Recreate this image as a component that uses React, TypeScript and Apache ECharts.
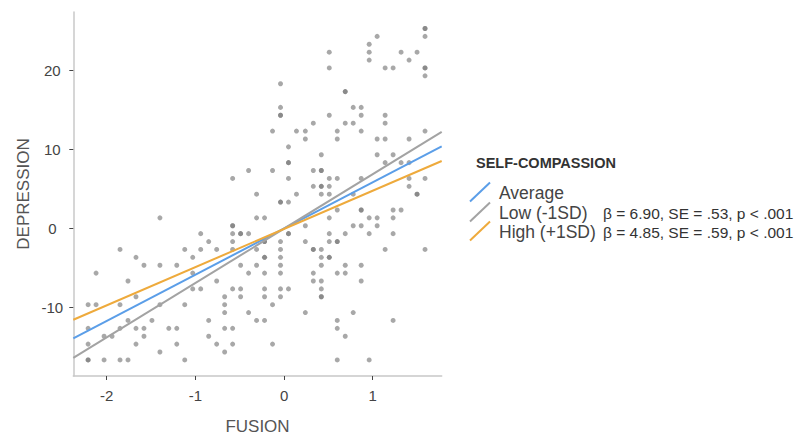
import React, { useEffect, useRef } from "react";
import * as echarts from "echarts";

const xTicks = [-2, -1, 0, 1];
const yTicks = [-10, 0, 10, 20];
const xRange = [-2.377, 1.778];
const yRange = [-18.72, 27.41];

const lineX = [-2.377, 1.778];
const averageY = [-13.95, 10.39];
const lowY = [-16.43, 12.22];
const highY = [-11.59, 8.53];

const legendTitle = "SELF-COMPASSION";
const seriesNames = ["Average", "Low (-1SD)", "High (+1SD)"];
const seriesStats = ["", "β = 6.90, SE = .53, p < .001", "β = 4.85, SE = .59, p < .001"];
const lineColors = ["#5b9ee8", "#a3a3a3", "#eeaa3c"];

// [fusion, depression] observations (repeated pairs = overlapping points)
const observations: [number, number][] = [
  [-1.40, 1.32],
  [-1.85, -2.68], [-1.12, -2.68],
  [-1.67, -3.68], [-1.03, -3.68],
  [-1.58, -4.68], [-1.40, -4.68], [-1.21, -4.68],
  [-2.12, -5.68], [-1.03, -5.68],
  [-1.76, -6.68],
  [-1.03, -7.68],
  [-1.67, -8.68],
  [-2.21, -9.68], [-2.12, -9.68], [-1.85, -9.68], [-1.40, -9.68], [-1.12, -9.68],
  [-1.76, -11.68], [-1.49, -11.68],
  [-2.21, -12.68], [-1.85, -12.68], [-1.67, -12.68], [-1.58, -12.68], [-1.30, -12.68], [-1.21, -12.68],
  [-2.03, -13.68], [-1.94, -13.68], [-1.58, -13.68],
  [-2.21, -14.68], [-1.67, -14.68], [-1.21, -14.68],
  [-1.40, -15.68],
  [-2.21, -16.68], [-2.21, -16.68], [-2.03, -16.68], [-1.85, -16.68], [-1.76, -16.68], [-1.12, -16.68],

  [-0.04, 3.32], [-0.04, 3.32], [0.05, 3.32],
  [-0.31, 1.32], [-0.22, 1.32],
  [-0.58, 0.32], [-0.58, 0.32], [0.24, 0.32],
  [-0.94, -0.68], [-0.58, -0.68], [-0.49, -0.68], [-0.49, -0.68], [-0.40, -0.68], [0.05, -0.68], [0.05, -0.68],
  [-0.85, -1.68], [-0.58, -1.68], [-0.22, -1.68], [-0.22, -1.68], [-0.04, -1.68], [0.24, -1.68],
  [-0.94, -2.68], [-0.76, -2.68], [-0.58, -2.68], [-0.31, -2.68], [-0.04, -2.68], [0.33, -2.68], [0.33, -2.68],
  [-0.22, -3.68], [-0.22, -3.68], [-0.04, -3.68],
  [-0.49, -4.68], [-0.31, -4.68], [-0.04, -4.68],
  [-0.40, -5.68], [-0.22, -5.68], [-0.04, -5.68], [0.33, -5.68],
  [-0.76, -6.68], [0.33, -6.68],
  [-0.94, -7.68], [-0.58, -7.68], [-0.49, -7.68], [-0.22, -7.68], [-0.04, -7.68], [0.05, -7.68],
  [-0.67, -8.68], [-0.49, -8.68], [-0.22, -8.68], [-0.04, -8.68],
  [-0.67, -9.68], [-0.13, -9.68],
  [-0.67, -10.68], [-0.40, -10.68], [0.24, -10.68],
  [-0.85, -11.68], [-0.31, -11.68], [-0.22, -11.68],
  [-0.67, -12.68], [-0.58, -12.68],
  [-0.85, -13.68],
  [-0.76, -14.68], [-0.58, -14.68], [-0.13, -14.68],
  [-0.67, -15.68],

  [0.60, 2.32], [0.87, 2.32], [0.87, 2.32], [1.23, 2.32], [1.32, 2.32],
  [0.51, 1.32], [0.96, 1.32], [1.05, 1.32], [1.23, 1.32],
  [0.78, 0.32], [0.87, 0.32], [1.05, 0.32],
  [0.51, -0.68], [0.69, -0.68], [0.96, -0.68], [1.23, -0.68],
  [0.51, -1.68], [0.60, -1.68], [0.60, -1.68],
  [0.42, -2.68], [1.14, -2.68], [1.59, -2.68],
  [0.42, -3.68], [0.51, -3.68], [0.51, -3.68],
  [0.42, -4.68], [0.69, -4.68], [0.87, -4.68],
  [0.60, -5.68], [0.69, -5.68],
  [0.42, -6.68], [0.87, -6.68],
  [0.42, -7.68],
  [0.42, -8.68], [0.42, -8.68],
  [0.78, -10.68],
  [0.60, -11.68], [1.23, -11.68],
  [0.60, -12.68],
  [0.69, -13.68],
  [0.60, -16.68], [0.96, -16.68],

  [0.51, 22.32], [0.51, 20.32],
  [-0.04, 18.32], [-0.04, 15.32], [-0.04, 14.32], [-0.04, 14.32], [0.51, 14.32],
  [0.33, 13.32],
  [-0.13, 12.32], [0.14, 12.32], [0.24, 12.32],
  [0.24, 11.32],
  [0.05, 10.32],
  [0.42, 9.32],
  [0.05, 8.32], [0.05, 8.32],
  [-0.40, 7.32], [-0.13, 7.32], [0.33, 7.32], [0.42, 7.32], [0.42, 7.32],
  [-0.58, 6.32], [0.05, 6.32], [0.51, 6.32],
  [0.33, 5.32], [0.42, 5.32], [0.42, 5.32], [0.51, 5.32],
  [-0.31, 4.32], [0.14, 4.32], [0.42, 4.32], [0.51, 4.32],

  [1.59, 25.32], [1.59, 25.32], [1.59, 24.32], [1.05, 24.32],
  [0.96, 23.32],
  [0.96, 22.32], [1.32, 22.32], [1.50, 22.32],
  [0.96, 21.32], [1.41, 21.32],
  [1.14, 20.32], [1.23, 20.32], [1.59, 20.32], [1.59, 20.32],
  [1.59, 19.32],
  [0.69, 17.32], [0.69, 17.32],
  [0.78, 15.32], [0.87, 15.32],
  [0.87, 14.32], [1.14, 14.32],
  [0.69, 13.32], [0.78, 13.32], [1.14, 13.32],
  [0.60, 12.32], [0.87, 12.32], [1.59, 12.32],
  [0.60, 11.32], [1.05, 11.32], [1.14, 11.32], [1.41, 11.32],
  [1.05, 9.32], [1.23, 9.32],
  [1.14, 8.32], [1.32, 8.32], [1.41, 8.32],
  [0.60, 6.32], [0.87, 6.32], [1.41, 6.32], [1.59, 6.32],
  [1.41, 5.32],
  [0.78, 4.32], [1.50, 4.32], [1.50, 4.32],
];

const FONT = "'Liberation Sans', Arial, sans-serif";

export default function App() {
  const ref = useRef<HTMLDivElement>(null);

  useEffect(() => {
    if (!ref.current) return;
    const chart = echarts.init(ref.current, undefined, { renderer: "svg" });
    const lineSets = [averageY, lowY, highY];

    const legendY = [193, 213, 232];
    const graphic: any[] = [
      {
        type: "text",
        x: 476,
        y: 163,
        style: {
          text: legendTitle,
          fill: "#333",
          fontSize: 14.5,
          fontWeight: 600,
          fontFamily: FONT,
          verticalAlign: "middle",
          align: "left",
        },
      },
    ];
    seriesNames.forEach((name, i) => {
      const cy = legendY[i] - 1;
      graphic.push({
        type: "line",
        shape: { x1: 470, y1: cy + 9.5, x2: 490, y2: cy - 9.5 },
        style: { stroke: lineColors[i], lineWidth: 2 },
      });
      graphic.push({
        type: "text",
        x: 499,
        y: legendY[i],
        style: {
          text: name,
          fill: "#444",
          fontSize: 17.5,
          fontFamily: FONT,
          verticalAlign: "middle",
          align: "left",
        },
      });
      if (seriesStats[i]) {
        graphic.push({
          type: "text",
          x: 603,
          y: legendY[i],
          style: {
            text: seriesStats[i],
            fill: "#333",
            fontSize: 15.5,
            fontFamily: FONT,
            verticalAlign: "middle",
            align: "left",
          },
        });
      }
    });

    chart.setOption({
      animation: false,
      grid: { left: 73.3, top: 12, right: 358.3, bottom: 56.5, containLabel: false },
      xAxis: {
        type: "value",
        min: xRange[0],
        max: xRange[1],
        name: "FUSION",
        nameLocation: "middle",
        nameGap: 42,
        nameTextStyle: { fontSize: 17, color: "#555", fontFamily: FONT },
        axisLine: { show: true, onZero: false, lineStyle: { color: "#c8c8c8", width: 1.5 } },
        axisTick: { show: true, length: 4, lineStyle: { color: "#444" }, customValues: xTicks },
        axisLabel: { customValues: xTicks, margin: 12, fontSize: 15, color: "#444", fontFamily: FONT },
        splitLine: { show: false },
      },
      yAxis: {
        type: "value",
        min: yRange[0],
        max: yRange[1],
        name: "DEPRESSION",
        nameLocation: "middle",
        nameGap: 41,
        nameTextStyle: { fontSize: 17, color: "#555", fontFamily: FONT },
        axisLine: { show: true, onZero: false, lineStyle: { color: "#c8c8c8", width: 1.5 } },
        axisTick: { show: true, length: 4, lineStyle: { color: "#444" }, customValues: yTicks },
        axisLabel: {
          customValues: yTicks,
          margin: 21,
          align: "center",
          fontSize: 15,
          color: "#444",
          fontFamily: FONT,
        },
        splitLine: { show: false },
      },
      series: [
        {
          type: "scatter",
          data: observations,
          symbol: "circle",
          symbolSize: 5,
          itemStyle: { color: "#7a7a7a", opacity: 0.65 },
          silent: true,
          z: 2,
        },
        ...seriesNames.map((name, i) => ({
          type: "line",
          name,
          data: lineX.map((x, j) => [x, lineSets[i][j]]),
          showSymbol: false,
          symbol: "none",
          lineStyle: { color: lineColors[i], width: 2 },
          silent: true,
          z: 3,
        })),
      ],
      graphic,
    });

    return () => chart.dispose();
  }, []);

  return (
    <div
      ref={ref}
      style={{ position: "fixed", left: 0, top: 0, width: 800, height: 440, background: "#fff" }}
    />
  );
}
